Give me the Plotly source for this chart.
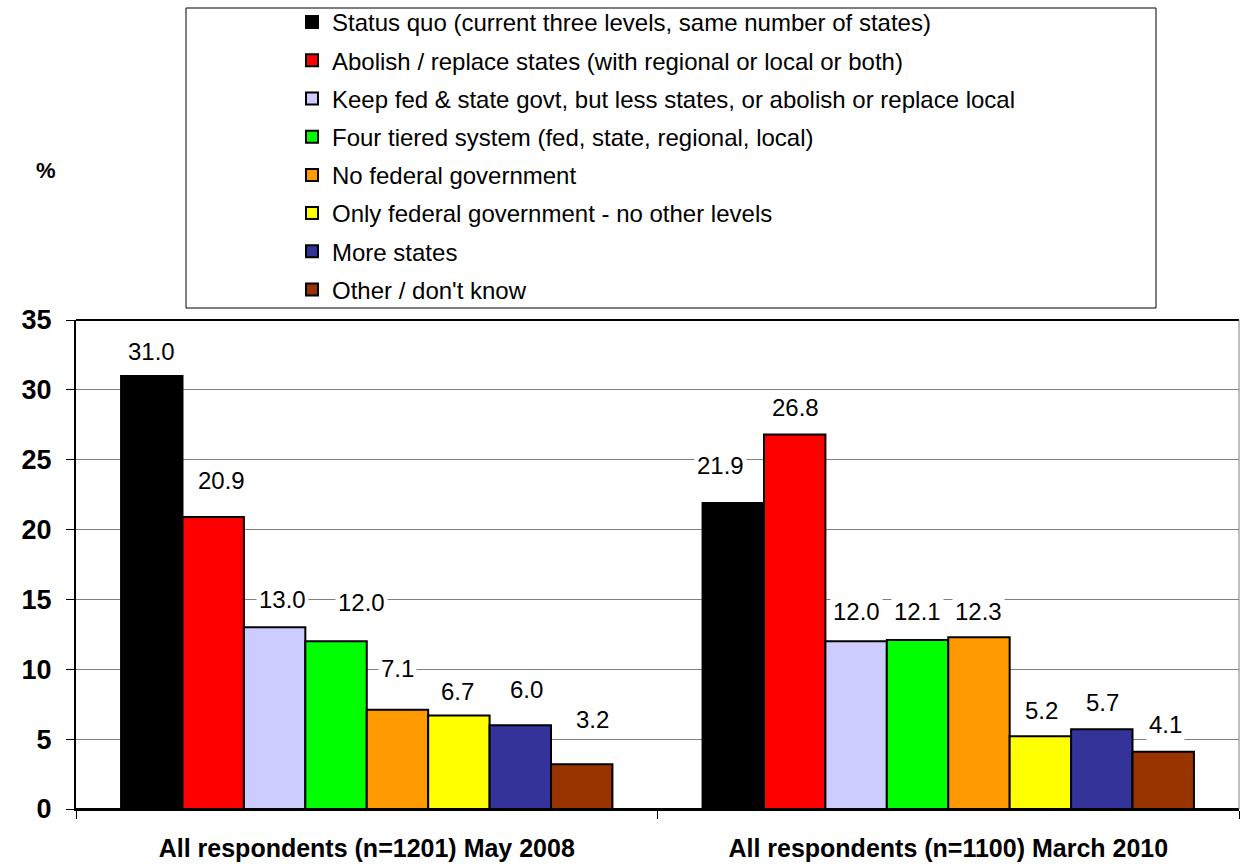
import plotly.graph_objects as go

# ---- data ----
categories = ["All respondents (n=1201) May 2008", "All respondents (n=1100) March 2010"]
series_names = [
    "Status quo (current three levels, same number of states)",
    "Abolish / replace states (with regional or local or both)",
    "Keep fed & state govt, but less states, or abolish or replace local",
    "Four tiered system (fed, state, regional, local)",
    "No federal government",
    "Only federal government - no other levels",
    "More states",
    "Other / don't know",
]
values_2008 = [31.0, 20.9, 13.0, 12.0, 7.1, 6.7, 6.0, 3.2]
values_2010 = [21.9, 26.8, 12.0, 12.1, 12.3, 5.2, 5.7, 4.1]
y_ticks = [0, 5, 10, 15, 20, 25, 30, 35]

# ---- styles ----
colors = ["#000000", "#FF0000", "#CCCCFF", "#00FF00", "#FF9900", "#FFFF00", "#333399", "#993300"]
# label placement nudges (pixels) per series, per category
label_dx = [[0, 8, 8, 25, 0, -1, 6, 11], [-13, 1, 0, 0, 0, 1, 1, 2]]
label_dy = [[24, 37, 28, 39, 41, 24, 36, 45], [38, 27, 30, 28, 26, 26, 27, 27]]

FONT = "Liberation Sans, Arial, sans-serif"
W, H = 1240, 864
ML, MR, MT, MB = 76, 1, 320, 55
PW = W - ML - MR
PH = H - MT - MB
BARGAP = 0.155

def px_x(px):
    return (px - ML) / PW

def px_y(py):
    return (H - MB - py) / PH

fig = go.Figure()
cols = list(zip(values_2008, values_2010))
for i, name in enumerate(series_names):
    fig.add_trace(go.Bar(
        x=[0, 1], y=list(cols[i]), name=name,
        marker=dict(color=colors[i], line=dict(color="#000000", width=2)),
        legendgroup=f"g{i}",
        hoverinfo="skip",
    ))

# data labels
n = len(series_names)
grp = 1 - BARGAP
annotations = []
for c, vals in enumerate([values_2008, values_2010]):
    for i, v in enumerate(vals):
        xpos = c - grp / 2 + (i + 0.5) * grp / n
        annotations.append(dict(
            x=xpos, y=v, xref="x", yref="y", text=f"{v:.1f}", showarrow=False,
            xshift=label_dx[c][i], yshift=label_dy[c][i],
            font=dict(family=FONT, size=24, color="#000000"),
            bgcolor="#FFFFFF", borderpad=2,
        ))

annotations.append(dict(
    x=px_x(46), y=px_y(170), xref="paper", yref="paper", text="<b>%</b>", showarrow=False,
    xanchor="center", yanchor="middle",
    font=dict(family=FONT, size=22, color="#000000"),
))

shapes = [
    # legend frame
    dict(type="rect", xref="paper", yref="paper",
         x0=px_x(186), x1=px_x(1156), y0=px_y(308), y1=px_y(8),
         line=dict(color="#000000", width=1), fillcolor="rgba(0,0,0,0)", layer="below"),
    # top border
    dict(type="line", xref="paper", yref="paper", x0=0, x1=1, y0=1, y1=1,
         line=dict(color="#000000", width=2)),
    # right border
    dict(type="line", xref="paper", yref="paper", x0=1, x1=1, y0=0, y1=1,
         line=dict(color="#808080", width=1)),
]

fig.update_layout(
    width=W, height=H,
    margin=dict(l=ML, r=MR, t=MT, b=MB, pad=0, autoexpand=False),
    paper_bgcolor="#FFFFFF", plot_bgcolor="#FFFFFF",
    barmode="group", bargap=BARGAP, bargroupgap=0,
    font=dict(family=FONT, color="#000000"),
    showlegend=True,
    legend=dict(
        xref="container", yref="container",
        x=(332 - 40) / W, y=1 - 0 / H, xanchor="left", yanchor="top",
        font=dict(family=FONT, size=24, color="#000000"),
        tracegroupgap=4, itemsizing="constant",
        bgcolor="rgba(0,0,0,0)", borderwidth=0,
        traceorder="grouped",
    ),
    annotations=annotations,
    shapes=shapes,
    xaxis=dict(
        tickmode="array", tickvals=[0, 1], ticktext=[f"<b>{c}</b>" for c in categories],
        ticks="", showgrid=False, showline=True, linecolor="#000000", linewidth=2,
        tickfont=dict(family=FONT, size=25, color="#000000"),
        ticklabelstandoff=16, range=[-0.5, 1.5], zeroline=False,
        minor=dict(tickvals=[-0.5, 0.5, 1.5], ticks="outside", ticklen=8, tickwidth=1,
                   tickcolor="#000000", showgrid=False),
    ),
    yaxis=dict(
        range=[0, 35], tickvals=y_ticks, ticks="outside", ticklen=8, tickwidth=1,
        tickcolor="#000000", showline=True, linecolor="#000000", linewidth=2,
        showgrid=True, gridcolor="#808080", gridwidth=1,
        zeroline=True, zerolinecolor="#000000", zerolinewidth=2,
        tickfont=dict(family=FONT, size=27, color="#000000", weight="bold"),
        ticklabelstandoff=9,
    ),
)

fig.write_html("out.html")
